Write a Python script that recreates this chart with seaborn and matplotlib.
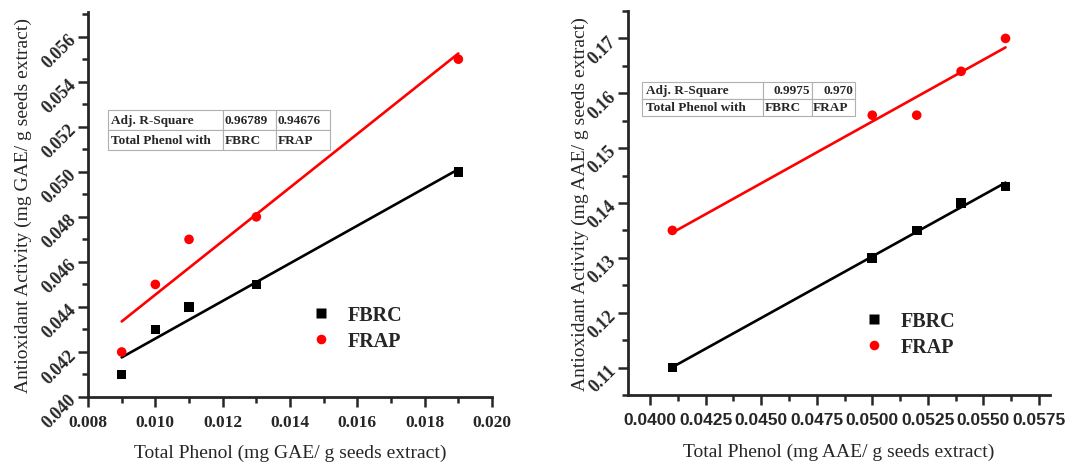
import numpy as np
import pandas as pd
import matplotlib.pyplot as plt
import seaborn as sns
from matplotlib.ticker import MultipleLocator, AutoMinorLocator, FormatStrFormatter

# left panel: GAE
gae_phenol = [0.009, 0.010, 0.011, 0.013, 0.019]
gae_fbrc = [0.041, 0.043, 0.044, 0.045, 0.050]
gae_frap = [0.042, 0.045, 0.047, 0.048, 0.055]
gae_r2 = ["0.96789", "0.94676"]

# right panel: AAE
aae_phenol = [0.041, 0.050, 0.052, 0.054, 0.056]
aae_fbrc = [0.110, 0.130, 0.135, 0.140, 0.143]
aae_frap = [0.135, 0.156, 0.156, 0.164, 0.170]
aae_r2 = ["0.9975", "0.970"]

methods = ["FBRC", "FRAP"]
colors = {"FBRC": "black", "FRAP": "red"}
marks = {"FBRC": "s", "FRAP": "o"}

sns.set_style("ticks")
plt.rcParams["font.family"] = ["Liberation Serif", "DejaVu Serif"]

fig = plt.figure(figsize=(10.84, 4.64), dpi=100)
ax1 = fig.add_axes([0.0812, 0.1422, 0.3727, 0.830])
ax2 = fig.add_axes([0.5793, 0.1466, 0.3893, 0.8276])


def draw_panel(ax, x, fbrc, frap, unit, r2, lims, steps, fmts,
               tbl_box, col_w, num_align, leg_anchor, label_xy, sans_xticks):
    df = pd.DataFrame({
        "phenol": list(x) * 2,
        "activity": list(fbrc) + list(frap),
        "method": ["FBRC"] * len(x) + ["FRAP"] * len(x),
    })
    # linear fits
    for m in methods:
        sub = df[df["method"] == m]
        sns.regplot(data=sub, x="phenol", y="activity", ci=None, scatter=False,
                    color=colors[m], line_kws={"lw": 1.9}, truncate=True, ax=ax)
    sns.scatterplot(data=df, x="phenol", y="activity", hue="method", style="method",
                    palette=colors, markers=marks, s=48, edgecolor="none", ax=ax, zorder=3)

    ax.set_xlim(*lims[0])
    ax.set_ylim(*lims[1])
    ax.xaxis.set_major_locator(MultipleLocator(steps[0]))
    ax.yaxis.set_major_locator(MultipleLocator(steps[1]))
    ax.xaxis.set_minor_locator(AutoMinorLocator(2))
    ax.yaxis.set_minor_locator(AutoMinorLocator(2))
    ax.xaxis.set_major_formatter(FormatStrFormatter(fmts[0]))
    ax.yaxis.set_major_formatter(FormatStrFormatter(fmts[1]))

    sns.despine(ax=ax)
    for s in ["left", "bottom"]:
        ax.spines[s].set_linewidth(2)
    ax.tick_params(which="major", direction="out", length=7, width=1.8)
    ax.tick_params(which="minor", direction="out", length=4, width=1.8)
    ax.tick_params(axis="x", pad=5)

    ax.set_xlabel(f"Total Phenol (mg {unit}/ g seeds extract)", fontsize=14)
    ax.set_ylabel(f"Antioxidant Activity (mg {unit}/ g seeds extract)", fontsize=14)
    ax.xaxis.set_label_coords(0.5, label_xy[1])
    ax.yaxis.set_label_coords(label_xy[0], 0.5)

    fig.canvas.draw()
    for lab in ax.get_yticklabels():
        lab.set_rotation(45)
        lab.set_fontweight("bold")
        lab.set_fontsize(13)
        lab.set_ha("right")
        lab.set_va("center")
        lab.set_rotation_mode("anchor")
    for lab in ax.get_xticklabels():
        lab.set_fontweight("bold")
        if sans_xticks:
            lab.set_family("Liberation Sans")
            lab.set_fontsize(12.5)
        else:
            lab.set_fontsize(12.5)

    tb = ax.table(cellText=[["Adj. R-Square"] + r2, ["Total Phenol with"] + methods],
                  colWidths=col_w, bbox=tbl_box, cellLoc="left")
    tb.auto_set_font_size(False)
    for (r, c), cell in tb.get_celld().items():
        cell.set_edgecolor("#b0b0b0")
        cell.set_linewidth(0.8)
        cell.PAD = 0.03
        cell.get_text().set_fontsize(9.5)
        cell.get_text().set_fontweight("bold")
        if r == 0 and c > 0:
            cell.get_text().set_ha(num_align)
            cell._loc = num_align

    ax.legend(title=None, loc="upper left", bbox_to_anchor=leg_anchor, frameon=False,
              prop={"size": 14.5, "weight": "bold"}, handletextpad=0.3,
              labelspacing=0.3, borderaxespad=0)


draw_panel(ax1, gae_phenol, gae_fbrc, gae_frap, "GAE", gae_r2,
           [(0.008, 0.020), (0.040, 0.0571)], (0.002, 0.002), ("%.3f", "%.3f"),
           [0.0495, 0.6416, 0.5495, 0.1039], [0.518, 0.239, 0.243], "left",
           (0.508, 0.26), (-0.139, -0.122), False)

draw_panel(ax2, aae_phenol, aae_fbrc, aae_frap, "AAE", aae_r2,
           [(0.039, 0.0580), (0.105, 0.175)], (0.0025, 0.01), ("%.4f", "%.2f"),
           [0.0332, 0.7266, 0.5047, 0.0885], [0.568, 0.230, 0.202], "right",
           (0.517, 0.24), (-0.092, -0.125), True)

fig.savefig("out.png", dpi=100)
